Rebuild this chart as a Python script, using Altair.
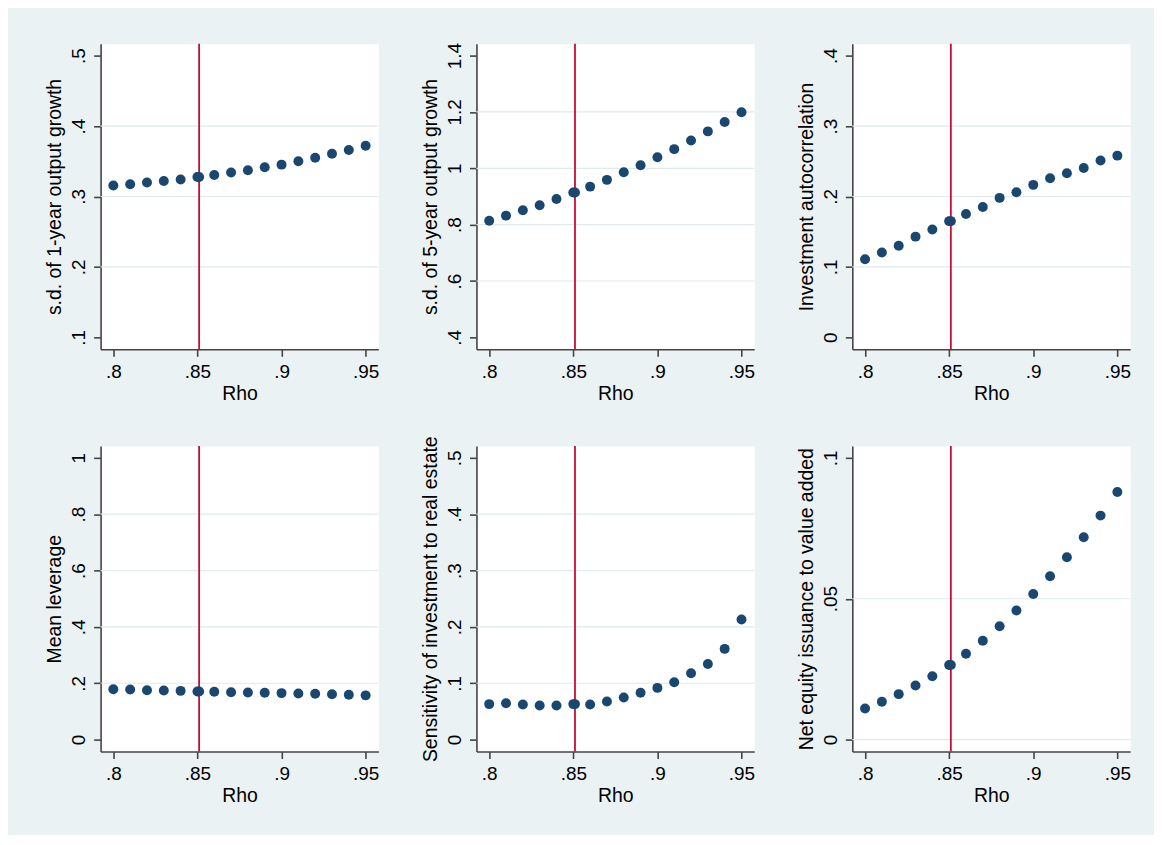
import altair as alt
import pandas as pd

# ---- data ----
rho = [0.80, 0.81, 0.82, 0.83, 0.84, 0.85, 0.86, 0.87, 0.88, 0.89,
       0.90, 0.91, 0.92, 0.93, 0.94, 0.95]

sd_1yr = [0.3155, 0.3174, 0.3198, 0.3221, 0.3240, 0.3278, 0.3306, 0.3339,
          0.3372, 0.3414, 0.3452, 0.3499, 0.3551, 0.3607, 0.3659, 0.3720]
sd_5yr = [0.814, 0.832, 0.851, 0.869, 0.891, 0.914, 0.935, 0.959,
          0.986, 1.011, 1.039, 1.068, 1.099, 1.131, 1.164, 1.199]
inv_autocorr = [0.111, 0.1205, 0.130, 0.143, 0.153, 0.165, 0.175, 0.185,
                0.198, 0.206, 0.2165, 0.226, 0.233, 0.2405, 0.251, 0.258]
mean_lev = [0.179, 0.178, 0.1755, 0.174, 0.173, 0.171, 0.170, 0.168,
            0.167, 0.166, 0.165, 0.164, 0.1625, 0.161, 0.159, 0.157]
sens_re = [0.063, 0.0647, 0.0624, 0.0606, 0.0606, 0.063, 0.0624, 0.0676,
           0.0747, 0.083, 0.0918, 0.1018, 0.1176, 0.134, 0.161, 0.213]
net_eq = [0.01107, 0.01343, 0.01614, 0.0192, 0.0225, 0.0265, 0.0305, 0.0351,
          0.0402, 0.0458, 0.0517, 0.058, 0.0647, 0.0718, 0.0795, 0.0879]

baseline_rho = 0.851
baseline_vals = [0.3278, 0.914, 0.165, 0.171, 0.063, 0.0265]

series = [sd_1yr, sd_5yr, inv_autocorr, mean_lev, sens_re, net_eq]
titles = ["s.d. of 1-year output growth", "s.d. of 5-year output growth",
          "Investment autocorrelation", "Mean leverage",
          "Sensitivity of investment to real estate",
          "Net equity issuance to value added"]
y_ticks = [[0.1, 0.2, 0.3, 0.4, 0.5],
           [0.4, 0.6, 0.8, 1.0, 1.2, 1.4],
           [0.0, 0.1, 0.2, 0.3, 0.4],
           [0.0, 0.2, 0.4, 0.6, 0.8, 1.0],
           [0.0, 0.1, 0.2, 0.3, 0.4, 0.5],
           [0.0, 0.05, 0.1]]
grid_vals = [[0.2, 0.3, 0.4],
             [0.6, 0.8, 1.0, 1.2],
             [0.1, 0.2, 0.3],
             [0.2, 0.4, 0.6, 0.8],
             [0.1, 0.2, 0.3, 0.4],
             [0.0, 0.05]]
x_ticks = [0.8, 0.85, 0.9, 0.95]

# ---- style ----
W, H = 279, 307
FONT = "Liberation Sans"
NAVY = "#1a476f"
RED = "#c40d34"
AXC = "#444444"
GRID = "#e1eaec"
BG = "#eaf2f3"
# Stata-style labels: drop the leading zero (0.2 -> .2)
LE = "replace(format(datum.value, '.2~f'), /^0\\./, '.')"

xpad = 0.15 * 12.8 / 253.3
xdom = [x_ticks[0] - xpad, x_ticks[-1] + xpad]


def make_panel(i):
    t = y_ticks[i]
    ypad = (t[-1] - t[0]) * 12.0 / 283.0
    ys = alt.Scale(domain=[t[0] - ypad, t[-1] + ypad], nice=False, zero=False)
    xs = alt.Scale(domain=xdom, nice=False, zero=False)

    xaxis = alt.Axis(values=x_ticks, title="Rho", labelExpr=LE, grid=False,
                     domainColor=AXC, domainWidth=1.6, tickColor=AXC,
                     tickWidth=1.6, tickSize=7, labelAngle=0,
                     labelAlign="center", labelBaseline="alphabetic",
                     labelPadding=21, labelFont=FONT, labelFontSize=19,
                     labelColor="black", labelFlush=False, labelOverlap=False,
                     titleFont=FONT, titleFontSize=19.5,
                     titleFontWeight="normal", titleColor="black",
                     titleBaseline="alphabetic", titleAlign="center",
                     titleX=W / 2, titleY=50)
    yaxis = alt.Axis(values=t, title=titles[i], labelExpr=LE, grid=False,
                     domainColor=AXC, domainWidth=1.6, tickColor=AXC,
                     tickWidth=1.6, tickSize=7, labelAngle=270,
                     labelAlign="center", labelBaseline="alphabetic",
                     labelPadding=9, labelFont=FONT, labelFontSize=19,
                     labelColor="black", labelFlush=False, labelOverlap=False,
                     titleFont=FONT, titleFontSize=19.5,
                     titleFontWeight="normal", titleColor="black",
                     titleAngle=270, titleAlign="center",
                     titleBaseline="alphabetic", titleX=-40, titleY=H / 2)

    df = pd.DataFrame({"Rho": rho + [baseline_rho],
                       "v": series[i] + [baseline_vals[i]]})
    grid = alt.Chart(pd.DataFrame({"v": grid_vals[i]})).mark_rule(
        color=GRID, strokeWidth=1.2).encode(
        y=alt.Y("v:Q", scale=ys, axis=yaxis))
    vline = alt.Chart(pd.DataFrame({"Rho": [baseline_rho]})).mark_rule(
        color=RED, strokeWidth=1.8).encode(
        x=alt.X("Rho:Q", scale=xs, axis=xaxis))
    pts = alt.Chart(df).mark_circle(size=100, opacity=1, color=NAVY).encode(
        x=alt.X("Rho:Q", scale=xs, axis=xaxis),
        y=alt.Y("v:Q", scale=ys, axis=yaxis))
    return alt.layer(grid, vline, pts).properties(width=W, height=H)


panels = [make_panel(i) for i in range(6)]
chart = alt.concat(*panels, columns=3,
                   spacing=alt.RowColnumber(row=97, column=98.5),
                   bounds="flush").properties(
    padding={"left": 36, "top": 32, "right": 22, "bottom": 28},
    background=BG,
).configure_view(fill="white", stroke="transparent")

chart.save("out.html", embed_options={"renderer": "svg", "actions": False})
